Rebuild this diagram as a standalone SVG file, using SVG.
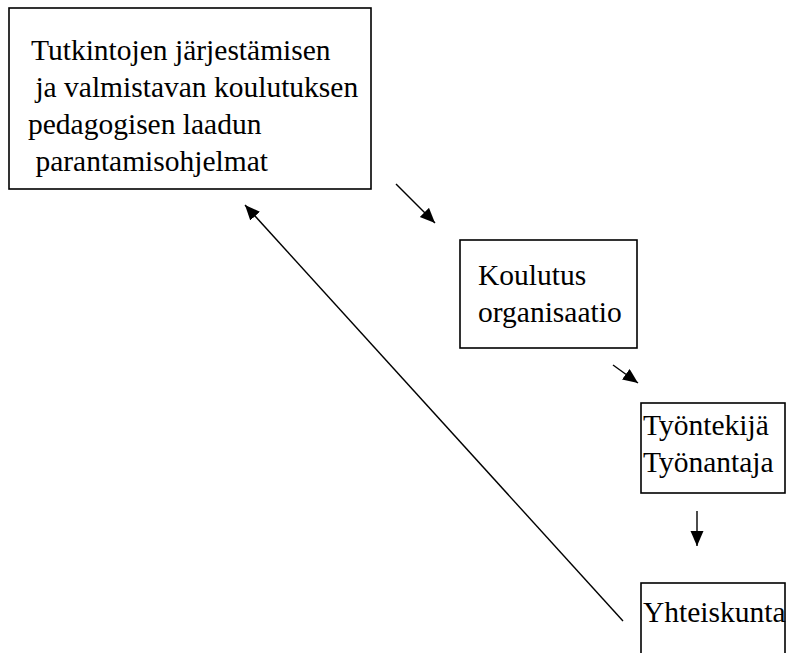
<svg xmlns="http://www.w3.org/2000/svg" width="786" height="653" viewBox="0 0 786 653">
<style>
.box{fill:#fff;stroke:#000;stroke-width:1.6}
.t{font-family:'Liberation Serif','DejaVu Serif',serif;font-size:29.5px;fill:#000}
.c{stroke:#000;stroke-width:1.4;fill:none;marker-end:url(#ah)}
</style>
<defs>
<marker id="ah" markerUnits="userSpaceOnUse" markerWidth="16" markerHeight="14" refX="15" refY="6.5" orient="auto">
<path d="M0,0 L15,6.5 L0,13 z" fill="#000"/>
</marker>
</defs>
<rect width="786" height="653" fill="#fff"/>
<g id="n1">
<rect class="box" x="9" y="8" width="362" height="181"/>
<text class="t" font-family="Liberation Serif, serif" x="31" y="60">Tutkintojen järjestämisen</text>
<text class="t" font-family="Liberation Serif, serif" x="28" y="97" xml:space="preserve"> ja valmistavan koulutuksen</text>
<text class="t" font-family="Liberation Serif, serif" x="28" y="134">pedagogisen laadun</text>
<text class="t" font-family="Liberation Serif, serif" x="28" y="171" xml:space="preserve"> parantamisohjelmat</text>
</g>
<g id="n2">
<rect class="box" x="460" y="240" width="177" height="108"/>
<text class="t" font-family="Liberation Serif, serif" x="478" y="285">Koulutus</text>
<text class="t" font-family="Liberation Serif, serif" x="478" y="322">organisaatio</text>
</g>
<g id="n3">
<rect class="box" x="641" y="403" width="144" height="90"/>
<text class="t" font-family="Liberation Serif, serif" x="643" y="435">Työntekijä</text>
<text class="t" font-family="Liberation Serif, serif" x="643" y="472">Työnantaja</text>
</g>
<g id="n4">
<rect class="box" x="641" y="583" width="144" height="90"/>
<text class="t" font-family="Liberation Serif, serif" x="643" y="622">Yhteiskunta</text>
</g>
<g id="connectors">
<line class="c" x1="396" y1="184" x2="435" y2="223"/>
<line class="c" x1="613" y1="365" x2="638" y2="383"/>
<line class="c" x1="697" y1="511" x2="697" y2="546"/>
<line class="c" x1="623" y1="621" x2="245" y2="205"/>
</g>
</svg>
